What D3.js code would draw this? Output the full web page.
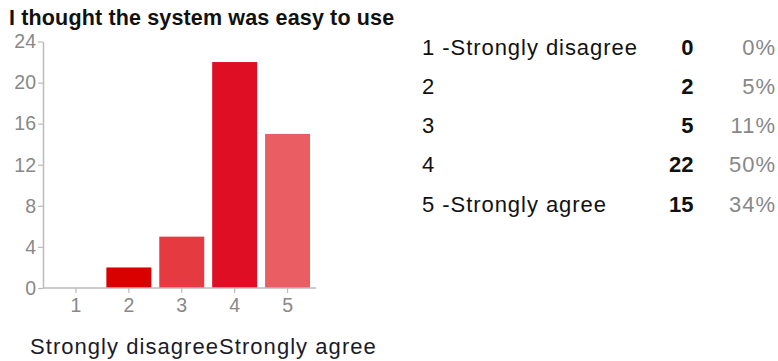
<!DOCTYPE html>
<html><head><meta charset="utf-8">
<script src="https://cdn.jsdelivr.net/npm/d3@7"></script>
<style>
body{margin:0;background:#fff;}
text{font-family:"Liberation Sans",Arial,sans-serif;}
</style></head>
<body><svg id="c" width="778" height="361"></svg>
<script>
const title = "I thought the system was easy to use";
const categories = ["1","2","3","4","5"];
const values = [0, 2, 5, 22, 15];
const legendLabels = ["1 -Strongly disagree","2","3","4","5 -Strongly agree"];
const percents = ["0%","5%","11%","50%","34%"];
const barColors = ["#d90000","#d90000","#e63a41","#e00e25","#ea5d62"];
const yTicks = [0,4,8,12,16,20,24];
const xLabelParts = ["Strongly disagree","Strongly agree"];

const svg = d3.select("#c");
svg.append("text").attr("x",9).attr("y",25).attr("font-size",21.5).attr("font-weight","bold")
  .attr("letter-spacing",0.15).attr("fill","#111").text(title);

const x = d3.scaleBand().domain(categories).range([49.5,314]).paddingInner(0.15).paddingOuter(0.075);
const y = d3.scaleLinear().domain([0,24]).range([288,41.5]);

// bars
svg.selectAll("rect.bar").data(values).join("rect").attr("class","bar")
  .attr("x",(d,i)=>x(categories[i])).attr("width",x.bandwidth())
  .attr("y",d=>y(d)).attr("height",d=>y(0)-y(d))
  .attr("fill",(d,i)=>barColors[i]);

// y axis
const ya = svg.append("g").attr("transform","translate(43,0)")
  .call(d3.axisLeft(y).tickValues(yTicks).tickSize(5).tickSizeOuter(0).tickPadding(2));
ya.select(".domain").attr("stroke","#bbb").attr("stroke-width",1.5);
ya.selectAll(".tick line").attr("stroke","#bbb").attr("stroke-width",1.2);
ya.selectAll(".tick text").attr("font-size",19.5).attr("fill","#888").attr("font-family","Liberation Sans, Arial, sans-serif");

// x axis
const xa = svg.append("g").attr("transform","translate(0,288)")
  .call(d3.axisBottom(x).tickSize(5).tickSizeOuter(0).tickPadding(5));
xa.select(".domain").attr("d","M43,0H316").attr("stroke","#bbb").attr("stroke-width",1.5);
xa.selectAll(".tick line").attr("stroke","#bbb").attr("stroke-width",1.2);
xa.selectAll(".tick text").attr("font-size",19.5).attr("fill","#888").attr("font-family","Liberation Sans, Arial, sans-serif");

// bottom label
const bl = svg.append("text").attr("x",30).attr("y",354).attr("font-size",22)
  .attr("letter-spacing",1.05).attr("fill","#1a1a2a");
bl.append("tspan").text(xLabelParts[0]);
bl.append("tspan").text(xLabelParts[1]);

// legend table
const rowY = d3.scalePoint().domain(categories).range([54.5,211.5]);
const lg = svg.append("g");
lg.selectAll("text.lab").data(legendLabels).join("text").attr("class","lab")
  .attr("x",422).attr("y",(d,i)=>rowY(categories[i])).attr("font-size",22)
  .attr("letter-spacing",0.95).attr("fill","#111").text(d=>d);
lg.selectAll("text.cnt").data(values).join("text").attr("class","cnt")
  .attr("x",693.5).attr("y",(d,i)=>rowY(categories[i])).attr("text-anchor","end")
  .attr("font-size",22).attr("font-weight","bold").attr("fill","#111").text(d=>d);
lg.selectAll("text.pct").data(percents).join("text").attr("class","pct")
  .attr("x",776).attr("y",(d,i)=>rowY(categories[i])).attr("text-anchor","end")
  .attr("font-size",22).attr("letter-spacing",1).attr("fill","#888").text(d=>d);
</script></body></html>
